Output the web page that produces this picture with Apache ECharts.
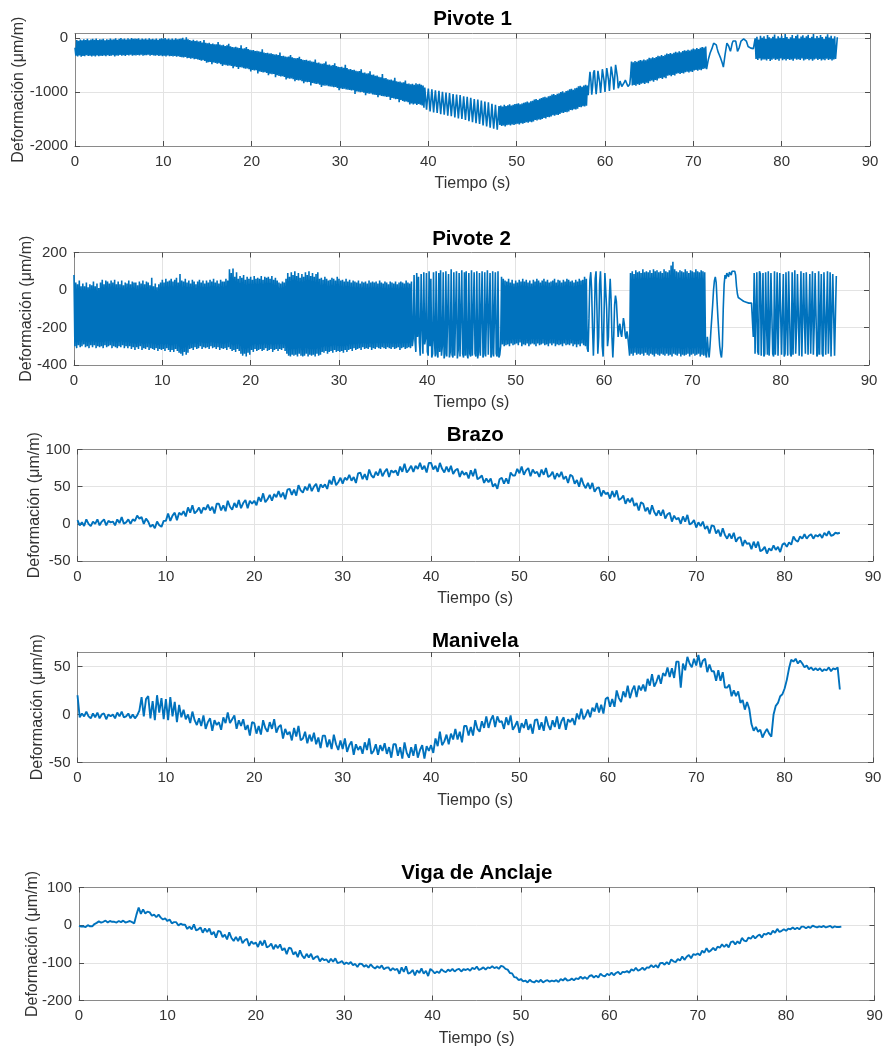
<!DOCTYPE html>
<html>
<head>
<meta charset="utf-8">
<title>Deformación vs tiempo</title>
<script src="https://cdn.jsdelivr.net/npm/echarts@6/dist/echarts.min.js"></script>
<style>
  html, body { margin: 0; padding: 0; background: #ffffff; }
  #chart { width: 886px; height: 1047px; }
</style>
</head>
<body>
<div id="chart"></div>
<script>
// ---- sampled strain records (µm/m) ----
// Pivote 1 and Pivote 2: one value every 0.1 s, one row per second
const dtFast = 0.1;
// Brazo, Manivela, Viga de Anclaje: one value every 0.25 s, one row per 2 s
const dtSlow = 0.25;

const titles = ['Pivote 1', 'Pivote 2', 'Brazo', 'Manivela', 'Viga de Anclaje'];
const xTicks = [0, 10, 20, 30, 40, 50, 60, 70, 80, 90];
const yMin = [-2000, -400, -50, -50, -200];
const yMax = [80, 200, 100, 65, 100];
const yStep = [1000, 200, 50, 50, 100];

const pivote1 = [
-180,-330,-40,-345,-55,-325,-30,-350,-45,-335,
-25,-340,-40,-320,-20,-335,-45,-330,-30,-345,
-20,-330,-35,-345,-15,-325,-40,-340,-25,-330,
-30,-335,-20,-325,-45,-340,-25,-320,-35,-335,
-15,-330,-30,-320,-25,-345,-10,-325,-35,-330,
-20,-315,-5,-330,-25,-320,-15,-335,-30,-315,
-10,-325,-25,-310,-5,-330,-20,-320,-15,-325,
-20,-315,-10,-325,-30,-310,-15,-330,-25,-320,
-15,-320,-30,-310,-10,-330,-25,-315,-20,-325,
-30,-330,-15,-320,-35,-335,-20,-325,-10,-340,
-20,-330,-5,-345,-25,-325,-15,-340,-30,-335,
-15,-345,-30,-335,-10,-350,-25,-340,-20,-355,
-15,-360,0,-365,-30,-355,10,-375,-25,-370,
-40,-385,-55,-375,-35,-395,-60,-390,-50,-400,
-70,-410,-60,-425,-85,-415,-40,-430,-90,-460,
-100,-450,-90,-445,-115,-490,-105,-455,-120,-465,
-120,-480,-80,-470,-125,-490,-140,-520,-130,-495,
-150,-505,-140,-515,-110,-510,-155,-520,-170,-560,
-175,-530,-165,-540,-180,-575,-190,-545,-140,-550,
-200,-560,-195,-570,-170,-565,-205,-580,-220,-620,
-230,-595,-225,-605,-245,-600,-240,-660,-250,-620,
-260,-630,-210,-640,-270,-635,-280,-650,-275,-690,
-290,-665,-285,-675,-300,-670,-310,-730,-305,-690,
-320,-705,-270,-715,-335,-710,-330,-725,-345,-770,
-350,-745,-345,-755,-320,-750,-360,-765,-375,-800,
-380,-780,-375,-790,-350,-785,-390,-800,-405,-840,
-410,-810,-405,-820,-425,-815,-420,-880,-440,-835,
-445,-845,-400,-855,-460,-850,-455,-865,-475,-910,
-480,-880,-470,-885,-440,-880,-500,-895,-495,-900,
-510,-905,-505,-915,-470,-910,-520,-925,-535,-970,
-540,-935,-535,-945,-555,-940,-500,-955,-560,-960,
-580,-965,-575,-975,-595,-970,-590,-1040,-610,-990,
-620,-995,-615,-1005,-580,-1000,-645,-1015,-640,-1060,
-660,-1025,-655,-1035,-620,-1030,-685,-1045,-680,-1050,
-700,-1055,-695,-1100,-720,-1060,-730,-1075,-670,-1080,
-750,-1085,-745,-1095,-765,-1090,-775,-1150,-770,-1110,
-790,-1120,-740,-1135,-805,-1130,-815,-1190,-810,-1150,
-825,-1165,-820,-1180,-790,-1175,-850,-1190,-845,-1230,
-860,-1215,-850,-1230,-870,-1220,-840,-1240,-860,-1225,
-850,-1235,-870,-1250,-880,-1290,-920,-1130,-1330,-1120,
-940,-1150,-1360,-1150,-950,-1170,-1380,-1160,-970,-1180,
-1390,-1190,-980,-1200,-1410,-1200,-1000,-1210,-1420,-1220,
-1010,-1230,-1440,-1230,-1020,-1240,-1450,-1250,-1040,-1260,
-1470,-1270,-1050,-1280,-1490,-1280,-1060,-1290,-1500,-1300,
-1080,-1310,-1520,-1310,-1090,-1320,-1540,-1340,-1110,-1340,
-1560,-1350,-1130,-1370,-1580,-1370,-1140,-1390,-1590,-1400,
-1160,-1410,-1620,-1410,-1180,-1430,-1640,-1440,-1190,-1450,
-1660,-1460,-1220,-1480,-1680,-1470,-1240,-1490,-1700,-1480,
-1260,-1610,-1250,-1630,-1270,-1620,-1240,-1640,-1260,-1615,
-1245,-1605,-1230,-1620,-1250,-1600,-1240,-1610,-1225,-1595,
-1220,-1590,-1210,-1600,-1230,-1580,-1215,-1590,-1200,-1575,
-1190,-1560,-1180,-1570,-1195,-1550,-1175,-1560,-1165,-1545,
-1140,-1520,-1130,-1530,-1150,-1510,-1125,-1515,-1115,-1500,
-1100,-1480,-1090,-1490,-1105,-1465,-1080,-1470,-1070,-1455,
-1050,-1430,-1040,-1440,-1060,-1420,-1035,-1425,-1025,-1410,
-1000,-1385,-990,-1390,-1010,-1370,-985,-1375,-975,-1360,
-950,-1335,-940,-1340,-960,-1320,-935,-1325,-925,-1310,
-895,-1280,-885,-1285,-905,-1265,-880,-1270,-870,-1255,
-880,-1060,-820,-630,-780,-1050,-900,-640,-600,-850,
-1040,-860,-610,-590,-830,-1020,-820,-580,-560,-800,
-1000,-790,-560,-540,-780,-980,-760,-530,-510,-750,
-960,-740,-500,-490,-720,-930,-880,-800,-850,-900,
-910,-870,-820,-780,-800,-860,-900,-880,-860,-700,
-440,-880,-450,-870,-430,-885,-445,-860,-425,-870,
-410,-850,-420,-840,-400,-855,-415,-830,-395,-840,
-370,-800,-380,-790,-360,-810,-375,-780,-355,-790,
-330,-750,-340,-740,-320,-760,-335,-735,-315,-745,
-290,-700,-300,-690,-280,-710,-295,-685,-275,-695,
-260,-665,-270,-655,-250,-670,-265,-650,-245,-660,
-230,-635,-240,-625,-220,-640,-235,-620,-215,-630,
-200,-605,-210,-595,-190,-610,-205,-590,-185,-600,
-170,-575,-180,-565,-160,-580,-590,-400,-340,-280,
-250,-200,-150,-100,-80,-95,-130,-200,-260,-300,
-330,-380,-430,-480,-540,-420,-300,-200,-100,-120,
-150,-200,-250,-180,-100,-60,-30,-40,-60,-150,
-250,-220,-180,-120,-60,-50,-40,-20,-10,-30,
-60,-110,-160,-170,-180,-190,-200,-195,-200,-205,
-10,-390,20,-410,-30,-380,40,-420,0,-400,
30,-400,-20,-420,50,-390,10,-430,-10,-405,
20,-385,60,-410,-15,-395,30,-425,0,-380,
40,-415,-5,-395,70,-420,15,-390,-20,-410,
10,-400,50,-425,-10,-385,35,-405,60,-395,
-15,-410,25,-380,45,-420,0,-400,30,-390,
55,-415,-5,-395,20,-425,70,-400,-10,-385,
35,-410,0,-390,50,-420,15,-400,-20,-415,
25,-385,65,-410,5,-395,40,-420,-15,-400,
30,-390,-400,10
];

const pivote2 = [
80,-300,40,-310,30,-295,50,-305,20,-300,
35,-290,20,-305,40,-300,15,-310,30,-295,
25,-305,45,-295,20,-310,35,-300,10,-305,
40,-300,55,-310,30,-295,50,-305,45,-300,
35,-295,50,-310,40,-300,55,-305,30,-310,
45,-300,30,-305,50,-295,25,-310,40,-300,
35,-310,50,-300,30,-315,45,-305,40,-320,
40,-305,25,-315,45,-300,35,-320,50,-310,
30,-315,45,-305,40,-320,25,-310,65,-315,
20,-320,35,-310,15,-325,30,-315,40,-320,
55,-315,40,-325,60,-310,45,-320,50,-330,
60,-320,45,-330,55,-315,65,-325,40,-335,
85,-340,50,-350,45,-330,60,-345,40,-335,
50,-315,35,-310,55,-320,45,-305,30,-315,
45,-310,55,-300,40,-315,50,-305,35,-310,
50,-305,40,-315,55,-300,45,-310,60,-305,
40,-315,50,-305,35,-320,55,-310,45,-315,
45,-310,60,-320,50,-305,110,-315,90,-325,
115,-320,70,-330,95,-315,60,-325,75,-340,
65,-350,80,-340,55,-355,70,-335,60,-345,
70,-320,55,-330,75,-315,60,-325,65,-320,
60,-315,75,-325,55,-320,70,-310,65,-325,
70,-320,60,-315,75,-330,55,-320,65,-315,
50,-325,40,-315,35,-320,45,-310,40,-325,
60,-340,90,-350,70,-355,95,-345,80,-350,
100,-345,75,-355,90,-340,65,-350,85,-355,
70,-350,95,-340,80,-355,100,-345,75,-350,
90,-345,70,-355,85,-340,95,-350,60,-345,
65,-330,55,-335,70,-325,60,-340,50,-330,
55,-325,65,-335,60,-320,50,-330,70,-325,
60,-330,50,-325,55,-335,45,-320,60,-330,
45,-320,55,-315,40,-325,50,-310,45,-320,
40,-315,50,-310,35,-320,45,-305,40,-315,
45,-310,35,-315,50,-305,40,-320,45,-310,
40,-315,45,-305,35,-310,50,-315,40,-305,
35,-310,45,-315,40,-305,30,-310,45,-315,
40,-305,35,-315,45,-310,30,-305,40,-320,
45,-310,40,-305,35,-315,50,-310,40,-305,
35,-310,45,-300,-260,80,-270,-330,90,-250,
70,-280,-350,85,-200,-340,95,-290,-260,90,
-330,-350,100,-300,60,-360,-340,95,-270,-355,
100,-340,-360,90,-330,105,-350,-300,95,-365,
-340,100,-355,-350,85,-360,-330,110,-345,-360,
95,-350,-340,100,-365,-320,90,-355,-350,105,
-340,-360,95,-350,100,-345,-365,90,-340,-355,
105,-350,-360,95,-340,-355,100,-365,-330,90,
-350,-345,100,-360,-340,95,-355,-365,105,-345,
-350,90,-360,-340,100,-355,-365,95,-340,-355,
100,-360,-345,-300,70,-290,60,-300,50,-295,
45,-290,60,-300,40,-285,55,-295,35,-290,
50,-285,40,-295,55,-280,45,-300,60,-290,
45,-295,55,-285,40,-300,50,-290,35,-285,
55,-290,45,-300,60,-285,50,-295,40,-290,
50,-285,60,-295,45,-290,55,-300,40,-285,
45,-295,50,-285,60,-300,40,-290,55,-295,
50,-290,40,-300,55,-285,45,-295,60,-290,
55,-295,45,-285,50,-300,40,-290,55,-305,
45,-290,60,-300,50,-285,55,-295,70,-300,
60,-310,-330,-150,50,95,0,-200,-350,-200,
60,100,-100,-340,-250,30,100,-50,-300,-355,
-150,90,80,-100,-300,-250,-50,60,-50,-250,
-360,-250,-80,-30,-60,-150,-250,-200,-180,-230,
-250,-200,-150,-180,-240,-260,-220,-250,-300,-350,
90,-340,100,-350,85,-335,105,-345,95,-340,
100,-345,90,-340,110,-350,95,-335,100,-345,
95,-350,105,-340,90,-345,110,-355,100,-340,
105,-345,95,-350,100,-340,90,-345,110,-350,
100,-340,95,-350,105,-345,130,-355,150,-340,
110,-345,100,-350,95,-340,105,-355,100,-345,
95,-350,110,-345,100,-340,90,-355,105,-345,
100,-340,95,-350,110,-345,100,-340,95,-355,
105,-345,100,-350,95,-340,-360,-250,-320,-360,
-300,-220,-150,-80,0,50,70,40,-60,-150,
-230,-300,-340,-360,-300,-100,30,80,60,90,
100,70,95,105,80,100,90,105,100,80,
20,-20,-40,-45,-50,-50,-55,-60,-60,-65,
-60,-65,-70,-65,-70,-70,-75,-70,-80,-250,
90,-340,-350,95,-330,-345,100,85,-350,-340,
90,-355,-340,95,-190,-345,100,-350,-200,90,
85,-340,-355,100,-345,-180,95,-350,-340,90,
100,-345,-350,85,-355,-340,95,-190,-350,100,
90,-340,-355,95,-345,-350,105,-340,-200,85,
95,-350,-340,100,-355,-345,90,-180,-340,95,
100,-345,-355,85,-340,-350,100,-345,-190,90,
95,-355,-340,100,-345,-350,85,-340,-355,95,
90,-345,-350,100,-340,-190,95,-355,-345,85,
90,-350,-340,75
];

const brazo = [
5,-2,2,-3,6,0,-3,3,
0,6,-2,3,6,-2,4,2,
3,-2,6,1,9,0,2,6,
0,6,4,11,7,9,0,7,
3,-4,-1,-6,3,-2,-4,4,
4,14,4,11,15,5,15,12,
17,10,22,15,25,14,17,22,
14,22,19,26,18,23,14,27,
27,18,25,17,31,23,19,28,
22,32,21,28,32,21,31,27,
31,25,36,30,41,29,33,39,
31,40,36,44,36,42,33,46,
47,39,46,38,52,45,42,50,
45,54,44,50,54,43,53,49,
53,47,59,53,64,52,56,62,
54,62,59,66,58,63,55,68,
69,60,67,59,73,65,62,70,
65,74,64,70,74,63,72,69,
72,65,77,70,81,69,73,78,
70,78,74,82,73,78,69,82,
82,73,78,70,82,74,69,77,
70,78,67,72,74,63,71,66,
69,61,72,64,74,60,62,65,
55,61,56,61,50,54,47,60,
62,54,61,54,69,65,65,74,
68,77,66,72,75,64,73,68,
70,63,73,66,75,63,65,70,
60,68,63,70,60,64,55,66,
64,54,59,50,62,53,48,55,
47,55,43,48,49,37,45,40,
42,34,44,36,45,32,34,38,
27,34,29,35,24,28,18,29,
27,17,22,13,25,16,11,18,
11,19,7,13,15,3,11,6,
8,0,10,3,12,-1,1,5,
-5,2,-3,3,-7,-3,-13,-2,
-3,-13,-8,-17,-6,-15,-20,-13,
-20,-12,-24,-19,-18,-30,-22,-27,
-26,-34,-24,-32,-24,-37,-35,-31,
-40,-33,-36,-29,-35,-31,-38,-28,
-26,-31,-25,-28,-17,-22,-24,-17,
-20,-14,-20,-16,-14,-20,-15,-17,
-14,-19,-12,-16,-10,-16,-15,-12,
-13,-12
];

const manivela = [
20,-3,1,-2,3,-2,-4,1,
-3,2,-4,0,1,-5,0,-2,
0,-4,2,-2,3,-3,-2,1,
-4,0,-4,-1,4,18,-2,16,
19,-4,14,-6,20,2,17,-5,
16,-6,18,-2,13,-8,10,-3,
5,-5,0,-9,3,-6,-11,-4,
-12,-1,-15,-8,-4,-17,-6,-11,
-8,-16,-3,-9,2,-9,-5,-1,
-15,-6,-12,-5,-16,-11,-22,-8,
-9,-20,-12,-21,-6,-14,-18,-8,
-15,-5,-19,-13,-11,-25,-15,-21,
-18,-27,-14,-23,-12,-27,-25,-18,
-30,-21,-28,-19,-31,-24,-35,-22,
-22,-34,-26,-36,-21,-31,-37,-27,
-36,-25,-39,-32,-28,-42,-31,-37,
-33,-41,-29,-37,-25,-41,-38,-31,
-42,-32,-38,-30,-41,-34,-45,-31,
-31,-43,-34,-46,-29,-40,-45,-34,
-43,-31,-45,-37,-32,-46,-33,-38,
-32,-40,-25,-33,-18,-32,-28,-21,
-31,-20,-26,-15,-26,-18,-29,-12,
-12,-22,-13,-22,-6,-15,-18,-7,
-14,-2,-14,-6,-1,-13,-2,-8,
-7,-15,-3,-11,-1,-16,-12,-7,
-19,-9,-14,-5,-16,-10,-20,-6,
-5,-16,-8,-17,-2,-11,-16,-6,
-13,-2,-15,-7,-3,-16,-5,-8,
-4,-11,1,-5,6,-5,-1,5,
-3,7,3,12,2,10,1,16,
18,8,16,8,25,17,13,24,
18,30,17,25,30,18,30,25,
31,24,37,30,42,29,34,41,
32,43,40,49,39,48,38,55,
55,28,53,46,60,53,49,58,
51,62,49,56,58,44,52,45,
45,35,46,35,44,28,28,31,
19,25,19,24,12,15,5,13,
6,-10,-17,-13,-18,-16,-24,-19,
-15,-20,-23,0,9,12,19,21,
27,36,48,57,55,58,53,56,
53,49,51,47,49,46,48,46,
48,45,47,46,49,45,48,47,
49,26
];

const viga = [
-2,-4,-3,-5,0,-3,-3,3,
6,10,7,9,12,7,11,9,
9,7,11,8,12,7,9,11,
8,5,28,47,30,42,31,36,
34,25,28,21,28,20,15,18,
11,15,5,8,8,-1,4,1,
1,-10,-4,-11,2,-14,-11,-6,
-20,-9,-18,-9,-25,-18,-33,-15,
-17,-32,-25,-38,-19,-34,-42,-31,
-42,-30,-48,-40,-36,-55,-43,-50,
-46,-58,-42,-54,-40,-59,-56,-49,
-64,-52,-61,-51,-67,-61,-77,-60,
-62,-78,-71,-85,-67,-81,-88,-76,
-86,-76,-91,-85,-82,-96,-88,-93,
-91,-99,-89,-97,-88,-101,-99,-95,
-104,-99,-103,-98,-106,-103,-111,-102,
-103,-110,-106,-113,-104,-111,-115,-109,
-114,-107,-117,-113,-112,-121,-114,-119,
-116,-129,-112,-124,-109,-129,-126,-119,
-133,-120,-127,-115,-129,-121,-135,-116,
-121,-128,-123,-127,-117,-122,-125,-118,
-122,-116,-123,-118,-116,-123,-117,-119,
-116,-121,-113,-117,-110,-119,-116,-112,
-118,-112,-114,-109,-114,-111,-116,-108,
-110,-116,-118,-127,-128,-138,-139,-146,
-143,-149,-147,-152,-145,-150,-152,-147,
-151,-145,-152,-148,-146,-150,-147,-149,
-146,-151,-143,-147,-141,-147,-146,-142,
-146,-141,-143,-137,-142,-138,-143,-135,
-133,-139,-134,-139,-129,-134,-136,-129,
-133,-126,-133,-127,-124,-131,-124,-125,
-122,-126,-117,-121,-113,-121,-118,-113,
-119,-112,-113,-106,-112,-106,-113,-101,
-100,-105,-98,-104,-91,-96,-98,-90,
-94,-83,-92,-84,-79,-88,-77,-79,
-75,-80,-68,-73,-61,-71,-67,-60,
-67,-57,-60,-51,-58,-51,-59,-45,
-43,-51,-43,-49,-34,-41,-43,-33,
-36,-28,-35,-29,-25,-33,-23,-25,
-20,-25,-15,-20,-10,-18,-15,-11,
-15,-9,-11,-6,-11,-7,-11,-4,
-4,-8,-4,-7,-1,-4,-6,-3,
-5,-2,-6,-4,-2,-7,-3,-5,
-5,-4
];

// ---- layout and styling ----
const FONT = '"Liberation Sans", Arial, Helvetica, sans-serif';
const LINE = '#0072BD';
const FRAME = '#8a8a8a';
const TICK = '#4d4d4d';
const TEXT = '#333333';

const grids = [
  { left: 75,   top: 33.5,  width: 795,   height: 112.5 },
  { left: 74,   top: 252.5, width: 795,   height: 112.5 },
  { left: 77.5, top: 449.5, width: 795.5, height: 111.5 },
  { left: 77.5, top: 652,   width: 795.5, height: 110.5 },
  { left: 79,   top: 887.5, width: 795.5, height: 113 }
];
const titleY = [19.5, 239, 435, 641.5, 873.5];
const yNameGap = [48, 39, 34.5, 31.5, 38];

const records = [
  { values: pivote1, dt: dtFast },
  { values: pivote2, dt: dtFast },
  { values: brazo, dt: dtSlow },
  { values: manivela, dt: dtSlow },
  { values: viga, dt: dtSlow }
];

function toPairs(values, dt) {
  return values.map((v, i) => [Math.round(i * dt * 100) / 100, v]);
}

const xAxes = [], yAxes = [], series = [], graphics = [];

grids.forEach((g, i) => {
  const tickStyle = { show: true, inside: true, length: 5, lineStyle: { color: TICK, width: 1 } };
  const frameLine = { show: true, onZero: false, lineStyle: { color: FRAME, width: 1 } };

  // bottom axis with labels and grid lines
  xAxes.push({
    gridIndex: i, type: 'value', position: 'bottom',
    min: xTicks[0], max: xTicks[xTicks.length - 1], interval: xTicks[1] - xTicks[0],
    axisLine: frameLine, axisTick: tickStyle,
    axisLabel: { show: true, margin: 8, fontSize: 15, color: TEXT, fontFamily: FONT },
    splitLine: { show: true, lineStyle: { color: '#e3e3e3', width: 1 } },
    name: 'Tiempo (s)', nameLocation: 'middle', nameGap: 30, nameMoveOverlap: false,
    nameTextStyle: { fontSize: 16, color: TEXT, fontFamily: FONT }
  });
  // top edge of the box
  xAxes.push({
    gridIndex: i, type: 'value', position: 'top',
    min: xTicks[0], max: xTicks[xTicks.length - 1], interval: xTicks[1] - xTicks[0],
    axisLine: frameLine, axisTick: tickStyle,
    axisLabel: { show: false }, splitLine: { show: false }
  });
  // left axis with labels and grid lines
  yAxes.push({
    gridIndex: i, type: 'value', position: 'left',
    min: yMin[i], max: yMax[i], interval: yStep[i],
    axisLine: frameLine, axisTick: tickStyle,
    axisLabel: {
      show: true, margin: 7, fontSize: 15, color: TEXT, fontFamily: FONT,
      showMaxLabel: yMax[i] % yStep[i] === 0,
      formatter: v => String(v)
    },
    splitLine: { show: true, lineStyle: { color: '#e3e3e3', width: 1 } },
    name: 'Deformación (μm/m)', nameLocation: 'middle', nameRotate: 90,
    nameGap: yNameGap[i], nameMoveOverlap: false,
    nameTextStyle: { fontSize: 16, color: TEXT, fontFamily: FONT }
  });
  // right edge of the box
  yAxes.push({
    gridIndex: i, type: 'value', position: 'right',
    min: yMin[i], max: yMax[i], interval: yStep[i],
    axisLine: frameLine, axisTick: tickStyle,
    axisLabel: { show: false }, splitLine: { show: false }
  });

  series.push({
    type: 'line', name: titles[i],
    xAxisIndex: i * 2, yAxisIndex: i * 2,
    data: toPairs(records[i].values, records[i].dt),
    showSymbol: false, symbol: 'none',
    lineStyle: { color: LINE, width: i < 2 ? 1.6 : 1.9 },
    itemStyle: { color: LINE },
    clip: true, silent: true
  });

  graphics.push({
    type: 'text', x: g.left + g.width / 2, y: titleY[i], silent: true,
    style: {
      text: titles[i], fill: '#000000', fontSize: 20.5, fontWeight: 'bold', fontFamily: FONT,
      align: 'center', verticalAlign: 'middle'
    }
  });
});

const chart = echarts.init(document.getElementById('chart'), null, { renderer: 'canvas' });
chart.setOption({
  animation: false,
  backgroundColor: '#ffffff',
  grid: grids.map(g => Object.assign({ containLabel: false, outerBoundsMode: 'none' }, g)),
  xAxis: xAxes,
  yAxis: yAxes,
  series: series,
  graphic: graphics
});
</script>
</body>
</html>
